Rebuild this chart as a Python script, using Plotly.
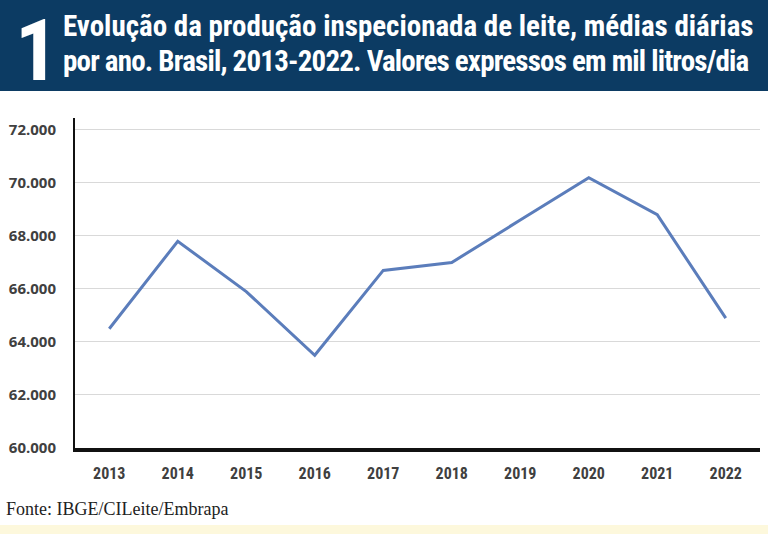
import plotly.graph_objects as go

years = ["2013", "2014", "2015", "2016", "2017", "2018", "2019", "2020", "2021", "2022"]
values = [64.5, 67.8, 65.9, 63.5, 66.7, 67.0, 68.6, 70.2, 68.8, 64.9]
ytick_vals = [60, 62, 64, 66, 68, 70, 72]
ytick_text = ["60.000", "62.000", "64.000", "66.000", "68.000", "70.000", "72.000"]
title_number = "1"
title_line1 = "Evolução da produção inspecionada de leite, médias diárias"
title_line2 = "por ano. Brasil, 2013-2022. Valores expressos em mil litros/dia"
source = "Fonte: IBGE/CILeite/Embrapa"

W, H = 768, 534
ML, MR, MT, MB = 75, 8, 118, 86
PH = H - MT - MB


def py(p):
    return (H - MB - p) / PH


def px(p):
    return (p - ML) / (W - ML - MR)


def cond(t, extra=""):
    return "<span style='font-stretch:condensed;" + extra + "'>" + t + "</span>"


fig = go.Figure()
fig.add_trace(go.Scatter(
    x=years, y=values, mode="lines",
    line=dict(color="#5b7dbb", width=3),
    hoverinfo="skip", showlegend=False,
))

fig.update_layout(
    width=W, height=H,
    margin=dict(l=ML, r=MR, t=MT, b=MB),
    paper_bgcolor="white", plot_bgcolor="white",
    xaxis=dict(
        type="category", range=[-0.5, 9.5],
        tickvals=years, ticktext=[cond(y) for y in years],
        showgrid=False, showline=True, linecolor="#111111", linewidth=4,
        tickfont=dict(family="Roboto", size=16, color="#404040", weight="bold"),
        ticks="", ticklabelstandoff=8,
    ),
    yaxis=dict(
        range=[60, 72.45],
        tickvals=ytick_vals, ticktext=ytick_text,
        showgrid=True, gridcolor="#d9d9d9", gridwidth=1,
        showline=True, linecolor="#111111", linewidth=2,
        zeroline=False,
        tickfont=dict(family="Open Sans", size=15, color="#404040", weight="bold"),
        ticks="", ticklabelstandoff=14,
    ),
    shapes=[
        dict(type="rect", xref="paper", yref="paper", x0=px(0), x1=px(W), y0=py(91), y1=py(0),
             fillcolor="#0c3b63", line=dict(width=0), layer="below"),
        dict(type="rect", xref="paper", yref="paper", x0=px(0), x1=px(W), y0=py(534), y1=py(525),
             fillcolor="#fdf8dc", line=dict(width=0), layer="below"),
    ],
    annotations=[
        dict(text=cond(title_number), xref="paper", yref="paper", x=px(13), y=py(51), xanchor="left", yanchor="middle",
             showarrow=False, font=dict(family="Roboto", size=86, color="white", weight="bold")),
        dict(text=cond(title_line1),
             xref="paper", yref="paper", x=px(61), y=py(26), xanchor="left", yanchor="middle",
             showarrow=False, font=dict(family="Roboto", size=29, color="white", weight="bold")),
        dict(text=cond(title_line2, "letter-spacing:-0.8px"),
             xref="paper", yref="paper", x=px(61), y=py(61), xanchor="left", yanchor="middle",
             showarrow=False, font=dict(family="Roboto", size=29, color="white", weight="bold")),
        dict(text=source, xref="paper", yref="paper", x=px(4), y=py(509), xanchor="left", yanchor="middle",
             showarrow=False, font=dict(family="Liberation Serif", size=18, color="#222222")),
    ],
)

fig.write_html("out.html", config={"displayModeBar": False},
               post_script="document.body.style.margin='0';")
